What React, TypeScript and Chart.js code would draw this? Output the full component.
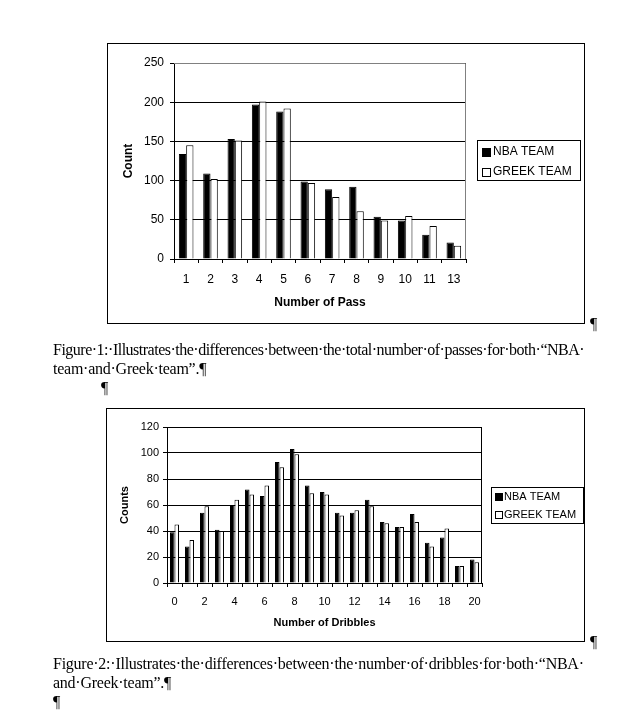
import React, { useEffect, useRef } from 'react';
import { Chart, registerables } from 'chart.js';

Chart.register(...registerables);

// ---- Data ----
const seriesNames = ['NBA TEAM', 'GREEK TEAM'];

const passCategories = ['1', '2', '3', '4', '5', '6', '7', '8', '9', '10', '11', '13'];
const passNBA = [134, 109, 153, 197, 188, 99, 89, 92, 54, 49, 31, 21];
const passGreek = [145, 102, 151, 201, 192, 97, 79, 61, 49, 55, 42, 17];
const passTicks = [0, 50, 100, 150, 200, 250];

const dribbleCategories = ['0', '1', '2', '3', '4', '5', '6', '7', '8', '9', '10', '11', '12', '13', '14', '15', '16', '17', '18', '19', '20'];
const dribbleNBA = [39, 28, 54, 41, 60, 72, 67, 93, 103, 75, 70, 54, 54, 64, 47, 43, 53, 31, 35, 13, 18];
const dribbleGreek = [45, 33, 59, 40, 64, 68, 75, 89, 99, 69, 68, 52, 56, 59, 46, 43, 47, 28, 42, 13, 16];
const dribbleTicks = [0, 20, 40, 60, 80, 100, 120];

const SANS = '"Liberation Sans", Arial, sans-serif';
const SERIF = '"Liberation Serif", "Times New Roman", serif';

const boxLegend = {
  id: 'boxLegend',
  afterDraw(chart: any, _args: any, opts: any) {
    const ctx = chart.ctx;
    const { x, y, w, h, rows, sqX, sq, textX, fontSize } = opts;
    ctx.save();
    ctx.fillStyle = '#fff';
    ctx.fillRect(x, y, w, h);
    ctx.strokeStyle = '#000';
    ctx.lineWidth = 1;
    ctx.strokeRect(x + 0.5, y + 0.5, w - 1, h - 1);
    chart.data.datasets.forEach((ds: any, i: number) => {
      const cy = rows[i];
      const top = Math.round(cy - sq / 2);
      ctx.fillStyle = ds.backgroundColor;
      ctx.fillRect(sqX, top, sq, sq);
      ctx.strokeStyle = '#000';
      ctx.strokeRect(sqX + 0.5, top + 0.5, sq - 1, sq - 1);
      ctx.fillStyle = '#000';
      ctx.font = `${fontSize}px ${SANS}`;
      ctx.textBaseline = 'middle';
      ctx.textAlign = 'left';
      ctx.fillText(ds.label, textX, cy);
    });
    ctx.restore();
  },
};

const plotBorder = {
  id: 'plotBorder',
  beforeDatasetsDraw(chart: any, _args: any, opts: any) {
    const { ctx, chartArea } = chart;
    const t = Math.round(chartArea.top) + 0.5;
    const r = Math.round(chartArea.right) - 0.5;
    const b = Math.round(chartArea.bottom);
    const l = Math.round(chartArea.left);
    ctx.save();
    ctx.strokeStyle = opts.color;
    ctx.lineWidth = 1;
    ctx.beginPath();
    ctx.moveTo(l, t);
    ctx.lineTo(r, t);
    ctx.lineTo(r, b);
    ctx.stroke();
    ctx.restore();
  },
};

function makeConfig(p: any) {
  return {
    type: 'bar',
    data: {
      labels: p.categories,
      datasets: [
        {
          label: seriesNames[0],
          data: p.nba,
          backgroundColor: '#000000',
          borderColor: '#000000',
          borderWidth: 1,
          categoryPercentage: 0.6,
          barPercentage: 1.0,
        },
        {
          label: seriesNames[1],
          data: p.greek,
          backgroundColor: '#ffffff',
          borderColor: '#000000',
          borderWidth: 1,
          categoryPercentage: 0.6,
          barPercentage: 1.0,
        },
      ],
    },
    options: {
      responsive: false,
      animation: false,
      events: [],
      layout: { padding: { left: 0, top: p.padTop, right: p.padRight, bottom: 0 } },
      plugins: {
        legend: { display: false },
        tooltip: { enabled: false },
        boxLegend: p.legend,
        plotBorder: { color: p.borderColor },
      },
      scales: {
        x: {
          offset: true,
          afterFit: (s: any) => { s.height = p.xHeight; },
          grid: {
            display: true,
            offset: true,
            drawOnChartArea: false,
            drawTicks: true,
            tickLength: 4,
            color: '#000',
            tickColor: '#000',
          },
          border: { display: true, color: '#000', width: 1 },
          ticks: {
            autoSkip: false,
            maxRotation: 0,
            color: '#000',
            padding: p.xTickPad,
            font: { family: SANS, size: p.fontSize },
            callback: (_v: any, i: number) => (p.every && i % p.every !== 0 ? '' : p.categories[i]),
          },
          title: {
            display: true,
            text: p.xTitle,
            color: '#000',
            font: { family: SANS, size: p.fontSize, weight: 'bold' },
            padding: { top: 0, bottom: p.xTitlePad },
          },
        },
        y: {
          min: p.ticks[0],
          max: p.ticks[p.ticks.length - 1],
          afterFit: (s: any) => { s.width = p.yWidth; },
          afterBuildTicks: (s: any) => { s.ticks = p.ticks.map((v: number) => ({ value: v })); },
          grid: {
            display: true,
            drawTicks: true,
            tickLength: 4,
            color: '#000',
            tickColor: '#000',
          },
          border: { display: true, color: '#000', width: 1 },
          ticks: {
            color: '#000',
            padding: p.yTickPad,
            font: { family: SANS, size: p.fontSize },
          },
          title: {
            display: true,
            text: p.yTitle,
            color: '#000',
            font: { family: SANS, size: p.fontSize, weight: 'bold' },
            padding: { top: p.yTitlePad, bottom: 0 },
          },
        },
      },
    },
    plugins: [plotBorder, boxLegend],
  };
}

function BarChart({ params, width, height }: any) {
  const ref = useRef<HTMLCanvasElement | null>(null);
  useEffect(() => {
    if (!ref.current) return;
    const chart = new Chart(ref.current, makeConfig(params) as any);
    return () => chart.destroy();
  }, []);
  return <canvas ref={ref} width={width} height={height} style={{ display: 'block', width, height }} />;
}

const passParams = {
  categories: passCategories,
  nba: passNBA,
  greek: passGreek,
  ticks: passTicks,
  xTitle: 'Number of Pass',
  yTitle: 'Count',
  fontSize: 12,
  padTop: 19,
  padRight: 118,
  xHeight: 64,
  yWidth: 66,
  xTickPad: 9,
  yTickPad: 6,
  xTitlePad: 13,
  yTitlePad: 13,
  every: 0,
  borderColor: '#808080',
  legend: { x: 369, y: 96, w: 104, h: 41, rows: [108, 128], sqX: 374, sq: 9, textX: 385, fontSize: 12 },
};

const dribbleParams = {
  categories: dribbleCategories,
  nba: dribbleNBA,
  greek: dribbleGreek,
  ticks: dribbleTicks,
  xTitle: 'Number of Dribbles',
  yTitle: 'Counts',
  fontSize: 11,
  padTop: 18,
  padRight: 102,
  xHeight: 58,
  yWidth: 60,
  xTickPad: 8,
  yTickPad: 4,
  xTitlePad: 11,
  yTitlePad: 11,
  every: 2,
  borderColor: '#000000',
  legend: { x: 384, y: 78, w: 93, h: 37, rows: [88, 106], sqX: 388, sq: 8, textX: 397, fontSize: 11 },
};

const textStyle: React.CSSProperties = {
  position: 'absolute',
  fontFamily: SERIF,
  fontSize: 16,
  letterSpacing: '-0.25px',
  lineHeight: '19px',
  whiteSpace: 'nowrap',
  color: '#000',
  opacity: 0.999,
  willChange: 'opacity',
};

export default function App() {
  return (
    <div style={{ position: 'absolute', left: 0, top: 0, width: 642, height: 719, background: '#fff', overflow: 'hidden' }}>
      <div style={{ position: 'absolute', left: 107, top: 43, width: 478, height: 281, border: '1px solid #000', boxSizing: 'border-box' }}>
        <BarChart params={passParams} width={476} height={279} />
      </div>
      <div style={{ ...textStyle, left: 590, top: 314 }}>¶</div>
      <div style={{ ...textStyle, left: 53, top: 340 }}>
        <span style={{ letterSpacing: '-0.5px' }}>
          Figure·1:·Illustrates·the·differences·between·the·total·number·of·passes·for·both·“NBA·
        </span>
        <br />
        team·and·Greek·team”.¶
      </div>
      <div style={{ ...textStyle, left: 101, top: 378 }}>¶</div>

      <div style={{ position: 'absolute', left: 106, top: 408, width: 479, height: 234, border: '1px solid #000', boxSizing: 'border-box' }}>
        <BarChart params={dribbleParams} width={477} height={232} />
      </div>
      <div style={{ ...textStyle, left: 590, top: 632 }}>¶</div>
      <div style={{ ...textStyle, left: 53, top: 654 }}>
        Figure·2:·Illustrates·the·differences·between·the·number·of·dribbles·for·both·“NBA·
        <br />
        and·Greek·team”.¶
      </div>
      <div style={{ ...textStyle, left: 53, top: 692 }}>¶</div>
    </div>
  );
}
